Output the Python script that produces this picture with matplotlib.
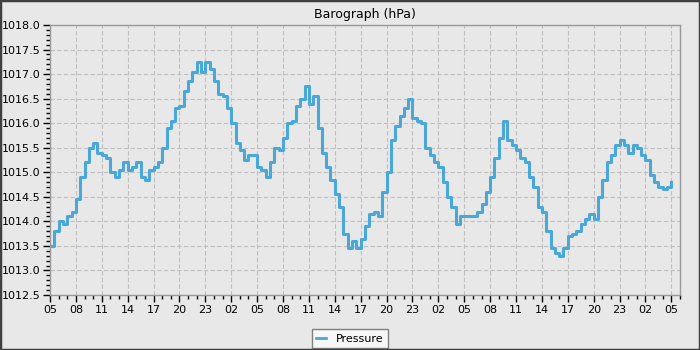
import matplotlib
matplotlib.use("Agg")
import matplotlib.pyplot as plt
from matplotlib.ticker import MultipleLocator, FixedLocator, FixedFormatter
from matplotlib.patches import Rectangle

# hours since start (05:00), half-hour steps
hours = [i * 0.5 for i in range(145)]
pressure = [
    1013.5, 1013.8, 1014.0, 1013.95, 1014.1, 1014.2, 1014.45, 1014.9, 1015.2, 1015.5,
    1015.6, 1015.4, 1015.35, 1015.3, 1015.0, 1014.9, 1015.05, 1015.2, 1015.05, 1015.1,
    1015.2, 1014.9, 1014.85, 1015.05, 1015.1, 1015.2, 1015.5, 1015.9, 1016.05, 1016.3,
    1016.35, 1016.65, 1016.85, 1017.05, 1017.25, 1017.05, 1017.25, 1017.1, 1016.85, 1016.6,
    1016.55, 1016.3, 1016.0, 1015.6, 1015.45, 1015.25, 1015.35, 1015.35, 1015.1, 1015.05,
    1014.9, 1015.2, 1015.5, 1015.45, 1015.7, 1016.0, 1016.05, 1016.35, 1016.5, 1016.75,
    1016.4, 1016.55, 1015.9, 1015.4, 1015.1, 1014.85, 1014.55, 1014.3, 1013.75, 1013.45,
    1013.6, 1013.45, 1013.65, 1013.9, 1014.15, 1014.2, 1014.1, 1014.6, 1015.0, 1015.65,
    1015.95, 1016.15, 1016.3, 1016.5, 1016.1, 1016.05, 1016.0, 1015.5, 1015.35, 1015.2,
    1015.1, 1014.8, 1014.5, 1014.3, 1013.95, 1014.1, 1014.1, 1014.1, 1014.1, 1014.2,
    1014.35, 1014.6, 1014.9, 1015.3, 1015.7, 1016.05, 1015.65, 1015.55, 1015.45, 1015.3,
    1015.2, 1014.9, 1014.7, 1014.3, 1014.2, 1013.8, 1013.45, 1013.35, 1013.3, 1013.45,
    1013.7, 1013.75, 1013.8, 1013.95, 1014.05, 1014.15, 1014.05, 1014.5, 1014.85, 1015.2,
    1015.35, 1015.55, 1015.65, 1015.55, 1015.4, 1015.55, 1015.5, 1015.35, 1015.25, 1014.95,
    1014.8, 1014.7, 1014.65, 1014.7, 1014.8,
]
tick_hours = [i * 3 for i in range(25)]
tick_labels = ["05", "08", "11", "14", "17", "20", "23", "02"] * 3 + ["05"]

BG = "#e8e8e8"
fig = plt.figure(figsize=(7, 3.5), dpi=100, facecolor=BG)
fig.patches.append(Rectangle((0, 0), 1, 1, transform=fig.transFigure, fill=False,
                             edgecolor="#404040", linewidth=2.5, zorder=10))
ax = fig.add_axes([50 / 700, 55 / 350, 630 / 700, 270 / 350])
ax.set_facecolor(BG)

ax.plot(hours, pressure, color="#4aa8d8", linewidth=2.2, drawstyle="steps-post",
        label="Pressure")

ax.set_xlim(0, 73)
ax.set_ylim(1012.5, 1018.0)
ax.xaxis.set_major_locator(FixedLocator(tick_hours))
ax.xaxis.set_major_formatter(FixedFormatter(tick_labels))
ax.xaxis.set_minor_locator(MultipleLocator(1))
ax.yaxis.set_major_locator(MultipleLocator(0.5))
ax.yaxis.set_minor_locator(MultipleLocator(0.1))
ax.yaxis.set_major_formatter(matplotlib.ticker.FormatStrFormatter("%.1f"))

ax.tick_params(which="major", length=5, width=1, color="black", labelsize=8,
               direction="out", pad=2)
ax.tick_params(which="minor", length=3, width=1, color="black", direction="out")
for s in ax.spines.values():
    s.set_color("#999999")
    s.set_linewidth(1)

ax.grid(True, which="major", color="#c0c0c0", linestyle=(0, (4, 2)), linewidth=0.8)
ax.set_axisbelow(True)

ax.set_title("Barograph (hPa)", fontsize=9, pad=5)

leg = fig.legend(loc="lower center", bbox_to_anchor=(0.5, -0.004), fontsize=8,
                 frameon=True, fancybox=False, handlelength=0.9, handletextpad=0.9,
                 borderpad=0.4, borderaxespad=0.3)
leg.get_frame().set_facecolor("#f7f7f7")
leg.get_frame().set_edgecolor("#808080")
leg.get_frame().set_linewidth(1)
leg.get_frame().set_alpha(1)
for h in leg.get_lines():
    h.set_linewidth(2)

fig.savefig("out.png", dpi=100, facecolor=BG)
